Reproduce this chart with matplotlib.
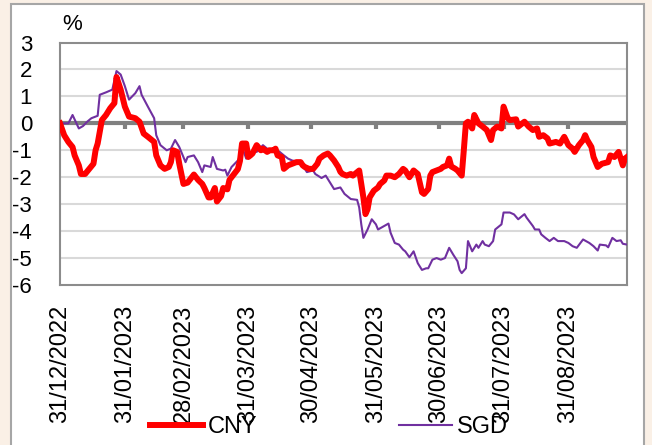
import datetime as dt

import matplotlib
matplotlib.use("Agg")
import matplotlib.pyplot as plt
from matplotlib.patches import Rectangle

# Days after 31/12/2022 and cumulative change (%) of each currency
cny_days = [0, 2, 4, 6, 7, 9, 10, 12, 14, 16, 17, 18, 20, 22, 24, 26, 27, 29, 31, 33,
            36, 38, 40, 42, 45, 46, 48, 50, 52, 53, 54, 56, 57, 59, 61, 64, 66, 68, 69, 71,
            72, 74, 75, 77, 78, 80, 81, 83, 85, 86, 87, 89, 90, 91, 92, 94, 96, 97, 99, 100,
            102, 103, 104, 106, 107, 109, 111, 113, 115, 116, 117, 119, 121, 123, 124, 126, 128, 129, 131, 133,
            134, 135, 137, 139, 140, 142, 143, 145, 146, 147, 148, 150, 152, 153, 155, 156, 158, 160, 162, 164,
            165, 167, 168, 169, 171, 173, 174, 176, 177, 178, 180, 182, 183, 185, 186, 187, 189, 190, 192, 193,
            194, 195, 197, 198, 200, 202, 204, 206, 207, 209, 211, 212, 214, 215, 218, 219, 221, 222, 224, 226,
            228, 229, 231, 233, 234, 237, 239, 241, 243, 245, 246, 248, 250, 251, 252, 254, 255, 257, 259, 262,
            263, 265, 267, 269, 270, 271]
cny_vals = [0.0, -0.44, -0.69, -0.88, -1.19, -1.56, -1.88, -1.88, -1.69, -1.5, -1.0, -0.75, 0.12, 0.31, 0.56, 0.75, 1.72, 1.25, 0.62, 0.25,
            0.19, 0.06, -0.38, -0.5, -0.69, -1.19, -1.56, -1.69, -1.62, -1.44, -1.0, -1.06, -1.5, -2.25, -2.2, -1.9, -2.1, -2.25, -2.4, -2.75,
            -2.75, -2.4, -2.9, -2.7, -2.4, -2.45, -2.1, -1.9, -1.7, -1.4, -0.75, -0.75, -1.25, -1.19, -1.12, -0.81, -1.0, -0.94, -1.06, -1.0,
            -1.0, -0.94, -1.19, -1.25, -1.69, -1.56, -1.5, -1.44, -1.44, -1.56, -1.62, -1.69, -1.69, -1.5, -1.31, -1.19, -1.12, -1.19, -1.38, -1.62,
            -1.8, -1.88, -1.94, -1.88, -1.94, -1.81, -1.75, -2.75, -3.37, -3.19, -2.75, -2.5, -2.38, -2.25, -2.12, -1.94, -1.94, -2.0, -1.88, -1.69,
            -1.75, -2.0, -1.88, -1.75, -1.88, -2.56, -2.62, -2.44, -1.94, -1.81, -1.75, -1.69, -1.62, -1.56, -1.31, -1.6, -1.69, -1.75, -1.94, -1.0,
            0.0, 0.06, -0.19, 0.31, 0.0, -0.12, -0.25, -0.62, -0.25, -0.12, -0.19, 0.62, 0.19, 0.12, 0.15, -0.12, 0.0, 0.06, -0.12, -0.25,
            -0.19, -0.5, -0.44, -0.56, -0.75, -0.69, -0.75, -0.5, -0.81, -0.94, -1.06, -0.81, -0.62, -0.44, -0.62, -0.88, -1.25, -1.62, -1.5, -1.44,
            -1.19, -1.25, -1.06, -1.56, -1.31, -1.25]

sgd_days = [0, 4, 6, 9, 11, 13, 15, 18, 19, 22, 25, 27, 29, 31, 33, 36, 38, 39, 42, 45,
            46, 48, 51, 53, 55, 57, 60, 61, 64, 66, 68, 69, 72, 73, 75, 78, 79, 80, 82, 85,
            86, 87, 89, 91, 93, 94, 97, 99, 101, 103, 105, 107, 109, 111, 115, 116, 118, 121, 122, 125,
            127, 129, 131, 134, 136, 139, 142, 143, 144, 145, 147, 149, 151, 152, 155, 157, 158, 160, 162, 164,
            165, 167, 169, 171, 173, 175, 176, 178, 180, 182, 184, 186, 188, 190, 191, 192, 194, 195, 196, 197,
            199, 200, 202, 203, 205, 207, 208, 210, 211, 212, 214, 215, 217, 219, 222, 223, 226, 227, 229, 230,
            232, 234, 236, 238, 241, 243, 245, 247, 250, 253, 255, 257, 258, 261, 262, 264, 266, 268, 269, 271]
sgd_vals = [0.0, 0.0, 0.31, -0.19, -0.1, 0.06, 0.19, 0.28, 1.06, 1.15, 1.25, 1.94, 1.81, 1.38, 0.88, 1.12, 1.38, 1.06, 0.62, 0.19,
            -0.44, -0.81, -1.0, -0.94, -0.62, -0.88, -1.44, -1.25, -1.19, -1.44, -1.81, -1.56, -1.62, -1.25, -1.69, -1.75, -1.72, -1.94, -1.62, -1.38,
            -1.25, -0.87, -1.31, -1.19, -1.0, -1.06, -0.81, -0.94, -1.0, -0.97, -1.06, -1.19, -1.31, -1.38, -1.44, -1.56, -1.81, -1.75, -1.88, -2.03,
            -1.94, -2.19, -2.44, -2.38, -2.62, -2.81, -2.84, -3.12, -3.75, -4.25, -3.94, -3.56, -3.75, -3.94, -3.81, -3.72, -4.06, -4.44, -4.5, -4.69,
            -4.75, -4.97, -4.75, -5.19, -5.44, -5.38, -5.38, -5.06, -5.0, -5.06, -5.0, -4.62, -4.88, -5.12, -5.44, -5.56, -5.38, -4.37, -4.56, -4.75,
            -4.5, -4.62, -4.37, -4.5, -4.56, -4.37, -3.94, -3.81, -3.75, -3.31, -3.31, -3.31, -3.38, -3.56, -3.37, -3.5, -3.81, -3.94, -3.94, -4.12,
            -4.25, -4.37, -4.25, -4.37, -4.37, -4.44, -4.56, -4.62, -4.31, -4.44, -4.56, -4.72, -4.5, -4.53, -4.6, -4.25, -4.37, -4.34, -4.47, -4.5]

tick_labels = ["31/12/2022", "31/01/2023", "28/02/2023", "31/03/2023", "30/04/2023",
               "31/05/2023", "30/06/2023", "31/07/2023", "31/08/2023"]
y_ticks = [3, 2, 1, 0, -1, -2, -3, -4, -5, -6]
series_names = ["CNY", "SGD"]

base = dt.date(2022, 12, 31)
cny_dates = [base + dt.timedelta(days=d) for d in cny_days]
sgd_dates = [base + dt.timedelta(days=d) for d in sgd_days]
tick_dates = [dt.datetime.strptime(s, "%d/%m/%Y").date() for s in tick_labels]

plt.rcParams["font.family"] = ["Liberation Sans", "DejaVu Sans"]

W, H = 652, 445
fig = plt.figure(figsize=(W / 100, H / 100), dpi=100)
fig.patch.set_facecolor("#FAF0E6")

# white chart panel with grey frame
panel = Rectangle((11 / W, -0.02), 633 / W, 1 - 4 / H + 0.02,
                  transform=fig.transFigure, facecolor="white",
                  edgecolor="#A6A6A6", linewidth=1.5, zorder=-5)
fig.patches.append(panel)

left, right, top, bottom = 60, 627, 42.5, 285
ax = fig.add_axes([left / W, 1 - bottom / H, (right - left) / W, (bottom - top) / H])
ax.set_zorder(2)
ax.set_facecolor("white")

x0 = base
x1 = base + dt.timedelta(days=271)
ax.set_xlim(x0, x1)
ax.set_ylim(-6, 3)

for v in y_ticks:
    if v not in (3, -6, 0):
        ax.axhline(v, color="#D9D9D9", lw=1.5, zorder=1)
ax.axhline(0, color="#808080", lw=3, zorder=2)
ax.vlines(tick_dates[1:], -0.2, 0, color="#808080", lw=3, zorder=2)

ax.plot(cny_dates, cny_vals, color="#FF0000", lw=4.3, solid_joinstyle="round",
        label=series_names[0], zorder=4)
ax.plot(sgd_dates, sgd_vals, color="#7030A0", lw=1.5, label=series_names[1], zorder=3)

for s in ax.spines.values():
    s.set_color("#8C8C8C")
    s.set_linewidth(1.5)

ax.set_yticks(y_ticks)
ax.set_yticklabels([str(v) for v in y_ticks], fontsize=16)
ax.tick_params(axis="y", length=0, pad=20)

ax.set_xticks(tick_dates)
ax.set_xticklabels(tick_labels, rotation=90, fontsize=17, va="top")
ax.tick_params(axis="x", length=0, pad=14)

fig.text(72 / W, 1 - 24 / H, "%", fontsize=16, ha="center", va="center")

leg = fig.legend(loc="center", bbox_to_anchor=(0.504, 1 - 427 / H), ncol=2,
                 frameon=False, fontsize=17, handlelength=2.25, handletextpad=0.2,
                 columnspacing=6.0, borderpad=0)
leg.set_zorder(3)

fig.savefig("out.png", dpi=100, facecolor=fig.get_facecolor())
